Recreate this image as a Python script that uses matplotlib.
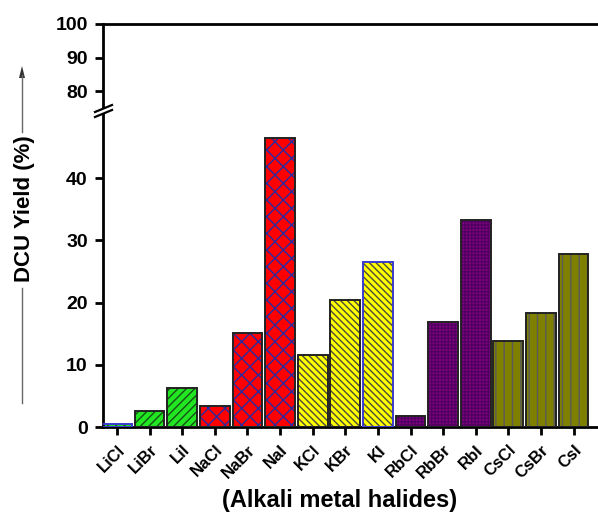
import matplotlib
matplotlib.use("Agg")
import matplotlib.pyplot as plt
from matplotlib.lines import Line2D
from matplotlib.patches import Polygon

plt.rcParams['font.family'] = ['Liberation Sans', 'DejaVu Sans']
plt.rcParams['font.weight'] = 'bold'
plt.rcParams['hatch.linewidth'] = 1.0

categories = ["LiCl", "LiBr", "LiI", "NaCl", "NaBr", "NaI", "KCl", "KBr", "KI",
              "RbCl", "RbBr", "RbI", "CsCl", "CsBr", "CsI"]
tick_labels = ["LiCl", "LiBr", "LiI", "NaCl", "NaBr", "NaI", "KCl", "KBr", "KI",
               "RbCl", "RbBr", "RbI", "CsCl", "CsBr", "CsI"]
values = [0.5, 2.6, 6.3, 3.3, 15.1, 46.4, 11.5, 20.4, 26.5,
          1.7, 16.9, 33.3, 13.8, 18.4, 27.8]
groups = ["Li", "Li", "Li", "Na", "Na", "Na", "K", "K", "K",
          "Rb", "Rb", "Rb", "Cs", "Cs", "Cs"]
lower_ticks = [0, 10, 20, 30, 40]
upper_ticks = [80, 90, 100]

face = {"Li": "#22e622", "Na": "#ff0000", "K": "#ffff00", "Rb": "#820082", "Cs": "#808000"}
hatch = {"Li": "////", "Na": "xx", "K": "\\\\\\\\\\", "Rb": "+++++", "Cs": "||"}
hcol = {"Li": "#145214", "Na": "#2a2aa0", "K": "#4a4a3a", "Rb": "#50005e", "Cs": "#5a5a5a"}
edge_override = {"LiCl": "#3a3ad0", "KI": "#3a3ad0"}

W, H = 598, 525
fig = plt.figure(figsize=(W / 100, H / 100), dpi=100)

def fx(px):
    return px / W

def fy(py):
    return 1 - py / H

left = fx(103)
right = 1.0
brk = 112
ax = fig.add_axes([left, fy(427), right - left, fy(brk) - fy(427)])
axu = fig.add_axes([left, fy(brk), right - left, fy(24) - fy(brk)])

x = list(range(len(categories)))
xlim = (-0.43, 14.75)

for a in (ax, axu):
    for i, (c, v, g) in enumerate(zip(categories, values, groups)):
        a.bar(i, v, width=0.91, color=face[g], edgecolor='none', linewidth=0, zorder=2)
        a.bar(i, v, width=0.91, color='none', edgecolor=hcol[g], hatch=hatch[g], linewidth=0, zorder=3)
        a.bar(i, v, width=0.91, color='none', edgecolor=edge_override.get(c, '#222222'), linewidth=1.4, zorder=4)
    a.set_xlim(*xlim)

ax.set_ylim(0, (427 - brk) / 6.22)
axu.set_ylim(100 - (brk - 24) / 3.35, 100)

ax.set_yticks(lower_ticks)
axu.set_yticks(upper_ticks)
ax.set_xticks(x)
ax.set_xticklabels(tick_labels, rotation=45, ha='right', rotation_mode='anchor', fontsize=12, fontweight='bold')
axu.set_xticks([])

for a in (ax, axu):
    a.spines['right'].set_visible(False)
    for s in a.spines.values():
        s.set_linewidth(2)
    a.tick_params(axis='both', direction='out', length=6, width=2, labelsize=14, pad=5)
    for lab in a.get_yticklabels():
        lab.set_fontweight('bold')
ax.spines['top'].set_visible(False)
axu.spines['bottom'].set_visible(False)
ax.tick_params(axis='x', pad=5, labelsize=12)

# break marks
poly = Polygon([[fx(95), fy(brk + 5)], [fx(112), fy(brk - 2)], [fx(112), fy(brk - 7)], [fx(95), fy(brk)]],
               closed=True, transform=fig.transFigure, facecolor='white', edgecolor='none', zorder=10)
fig.add_artist(poly)
fig.add_artist(Line2D([fx(95), fx(112)], [fy(brk + 5), fy(brk - 2)], transform=fig.transFigure,
                      color='black', lw=1.6, zorder=11))
fig.add_artist(Line2D([fx(95), fx(112)], [fy(brk), fy(brk - 7)], transform=fig.transFigure,
                      color='black', lw=1.6, zorder=11))

# y label with arrow
fig.text(fx(25), fy(209), "DCU Yield (%)", rotation=90, ha='center', va='center',
         fontsize=16, fontweight='bold')
fig.add_artist(Line2D([fx(22), fx(22)], [fy(403), fy(288)], transform=fig.transFigure,
                      color='#666666', lw=1.0))
fig.add_artist(Line2D([fx(22), fx(22)], [fy(132), fy(75)], transform=fig.transFigure,
                      color='#666666', lw=1.0))
fig.add_artist(Polygon([[fx(19), fy(78)], [fx(25), fy(78)], [fx(22), fy(66)]], closed=True,
                       transform=fig.transFigure, facecolor='#333333', edgecolor='none'))

fig.text(fx(340), fy(501), "(Alkali metal halides)", ha='center', va='center',
         fontsize=17, fontweight='bold')

fig.savefig("out.png", dpi=100, facecolor='white')
